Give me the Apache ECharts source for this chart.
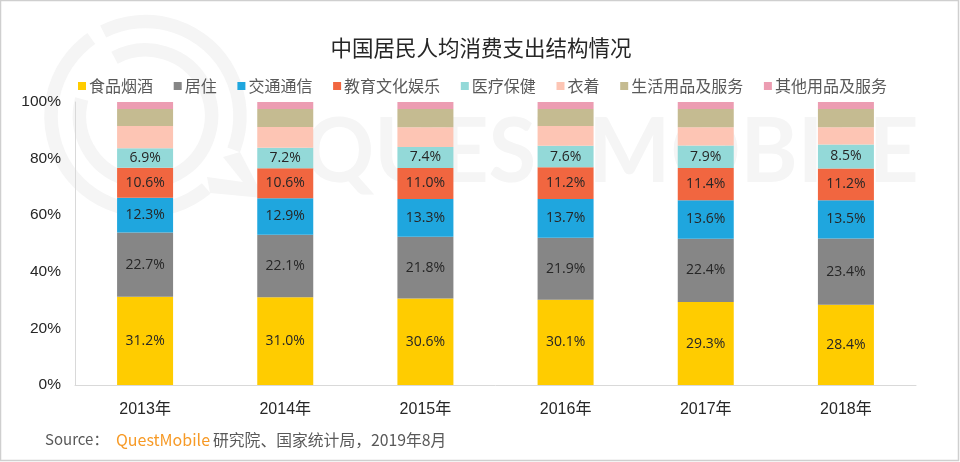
<!doctype html>
<html lang="en">
<head>
	<meta charset="UTF-8">
	<title>中国居民人均消费支出结构情况</title>
	<style>
		html,body{margin:0;padding:0;background:#fff;}
		#chart{width:960px;height:462px;}
	</style>
	<script src="https://cdn.jsdelivr.net/npm/echarts@6/dist/echarts.min.js"></script>
</head>
<body>
	<div id="chart"></div>
	<script>
		var years = ['2013年','2014年','2015年','2016年','2017年','2018年'];
		var names = ['食品烟酒','居住','交通通信','教育文化娱乐','医疗保健','衣着','生活用品及服务','其他用品及服务'];
		var colors = ['#ffcc00','#868686','#1fa6de','#f16640','#93d9d8','#fdc5b4','#c5bb91','#ec9db2'];
		var food = [31.2,31.0,30.6,30.1,29.3,28.4];
		var housing = [22.7,22.1,21.8,21.9,22.4,23.4];
		var transport = [12.3,12.9,13.3,13.7,13.6,13.5];
		var education = [10.6,10.6,11.0,11.2,11.4,11.2];
		var medical = [6.9,7.2,7.4,7.6,7.9,8.5];
		var clothing = [7.8,7.4,7.0,7.0,6.5,6.1];
		var daily = [6.0,6.3,6.4,6.0,6.4,6.4];
		var other = [2.5,2.5,2.5,2.5,2.5,2.5];
		var allValues = [food,housing,transport,education,medical,clothing,daily,other];
		var labelled = 5; // 只有前五项有数据标签

		var cjk = '"Noto Sans CJK SC","Open Sans",sans-serif';
		var latin = '"Liberation Sans","Noto Sans CJK SC",sans-serif';
		var mark = '#f5f5f5';
		var deg = Math.PI / 180;

		var series = names.map(function(name,i){
			return {
				name: name,
				type: 'bar',
				stack: 'total',
				barWidth: 56,
				data: allValues[i],
				itemStyle: {color: colors[i]},
				label: {
					show: i < labelled,
					position: 'inside',
					color: '#262626',
					fontSize: 14,
					fontFamily: '"Open Sans",sans-serif',
					formatter: function(p){ return p.value.toFixed(1) + '%'; }
				}
			};
		});

		// 水印：圆环、气泡尾巴和文字
		function ring(r,w,from,to){
			return {type:'arc',z:-1,silent:true,
				shape:{cx:145.5,cy:116,r:r,startAngle:from*deg,endAngle:to*deg},
				style:{fill:'none',stroke:mark,lineWidth:w}};
		}

		var myChart = echarts.init(document.getElementById('chart'),null,{renderer:'canvas'});
		myChart.setOption({
			animation: false,
			backgroundColor: '#fff',
			title: {
				text: '中国居民人均消费支出结构情况',
				left: 476, top: 32, textAlign: 'center',
				textStyle: {color:'#262626',fontSize:21.5,fontWeight:'normal',fontFamily:cjk}
			},
			legend: {
				left: 73, top: 73,
				itemWidth: 8, itemHeight: 8, itemGap: 20.7,
				icon: 'rect',
				selectedMode: false,
				textStyle: {color:'#595959',fontSize:16,fontFamily:cjk,padding:[0,0,0,-2]},
				data: names
			},
			grid: {left:75,right:44,top:102,bottom:77,containLabel:false},
			xAxis: {
				type:'category',
				data: years,
				axisTick:{show:false},
				axisLine:{lineStyle:{color:'#d9d9d9',width:1}},
				axisLabel:{color:'#262626',fontSize:16,fontFamily:latin,margin:17}
			},
			yAxis: {
				type:'value',
				min:0,max:100,interval:20,
				splitLine:{show:false},
				axisTick:{show:false},
				axisLine:{show:true,lineStyle:{color:'#d9d9d9',width:1}},
				axisLabel:{color:'#262626',fontSize:15.5,fontFamily:latin,margin:14,formatter:'{value}%'}
			},
			series: series,
			graphic: [
				{type:'rect',z:-1,silent:true,shape:{x:0.5,y:0.5,width:958,height:460},style:{fill:'none',stroke:'#cfcfcf',lineWidth:1.5}},
				ring(94.5,13.5,-116.6,21),
				ring(94.5,13.5,50,235),
				ring(66,13.5,-118,195),
				{type:'polygon',z:-1,silent:true,shape:{points:[[240,152],[264,198],[210,193],[207,177],[243,182],[223,157]]},style:{fill:mark}},
				{type:'text',z:-1,silent:true,x:304,y:108,scaleX:0.965,style:{text:'QUESTMOBILE',fill:mark,font:'700 90px "Lato",sans-serif'}},
				{type:'text',z:10,silent:true,left:45,top:432,style:{text:'Source：',fill:'#595959',font:'15px '+cjk}},
				{type:'text',z:10,silent:true,left:116,top:432,style:{text:'QuestMobile',fill:'#f79a26',font:'16px '+cjk}},
				{type:'text',z:10,silent:true,left:213,top:432,style:{text:'研究院、国家统计局，2019年8月',fill:'#595959',font:'15.8px '+cjk}}
			]
		});
	</script>
</body>
</html>
